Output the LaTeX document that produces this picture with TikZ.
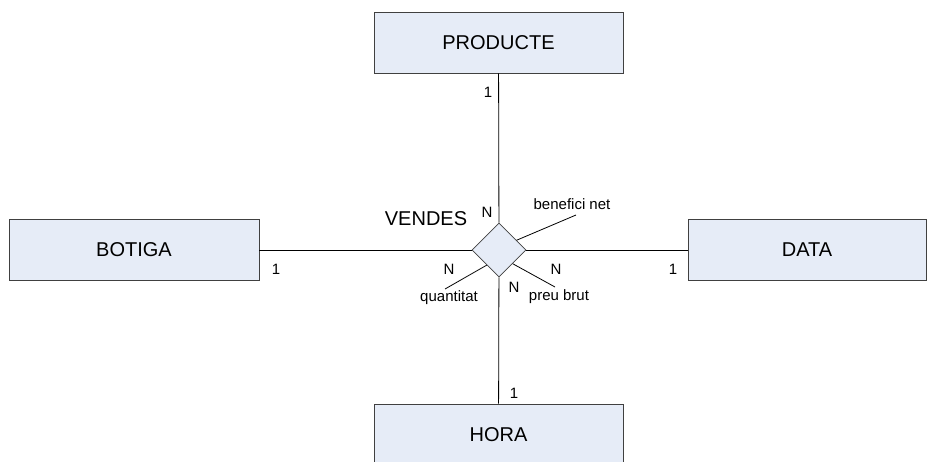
\documentclass[tikz,border=0pt]{standalone}
\usepackage{fontspec}
\setmainfont{Liberation Sans}
\usepackage{tikz}
\usetikzlibrary{shapes.geometric}
\definecolor{boxfill}{RGB}{230, 236, 247}
\definecolor{boxline}{RGB}{64, 64, 64}

\begin{document}
\begin{tikzpicture}[x = 1pt, y = -1pt,
	entity/.style = {draw = boxline, fill = boxfill, line width = 0.8pt, minimum height = 61pt, inner sep = 0pt, font = \fontsize{20}{24}\selectfont},
	relation/.style = {diamond, draw = boxline, fill = boxfill, line width = 0.8pt, minimum width = 54pt, minimum height = 54pt, inner sep = 0pt},
	card/.style = {inner sep = 0pt, font = \fontsize{15}{18}\selectfont},
	link/.style = {line width = 0.8pt}]
			\useasboundingbox (0,0) rectangle (927,461);
			\node (p) at (498.5,42.5) [entity, minimum width = 249pt] {PRODUCTE};
			\node (b) at (134,250) [entity, minimum width = 250pt] {BOTIGA};
			\node (d) at (807,250) [entity, minimum width = 238pt] {DATA};
			\node (h) at (498.5,434.5) [entity, minimum width = 249pt] {HORA};
			\node (v) at (499,250) [relation] {};
			\coordinate (ben) at (576,215);
			\coordinate (qua) at (445,289);
			\coordinate (pre) at (555,287);
			\draw[link] (p) -- (v);
			\draw[link] (b) -- (v);
			\draw[link] (d) -- (v);
			\draw[link] (h) -- (v);
			\draw[link] (v.29) -- (ben);
			\draw[link] (v.231) -- (qua);
			\draw[link] (v.-45) -- (pre);
			\node (vn) at (426,219) [inner sep = 0pt, font = \fontsize{20}{24}\selectfont] {VENDES};
			\node (c1) at (488,92.5) [card] {1};
			\node (c2) at (487,212) [card] {N};
			\node (c3) at (276,269) [card] {1};
			\node (c4) at (449,269) [card] {N};
			\node (c5) at (556,269) [card] {N};
			\node (c6) at (673,269) [card] {1};
			\node (c7) at (514,287) [card] {N};
			\node (c8) at (514,393) [card] {1};
			\node (a1) at (572,204) [card] {benefici net};
			\node (a2) at (449,298) [card] {quantitat};
			\node (a3) at (559,297) [card] {preu brut};
			\end{tikzpicture}
\end{document}
